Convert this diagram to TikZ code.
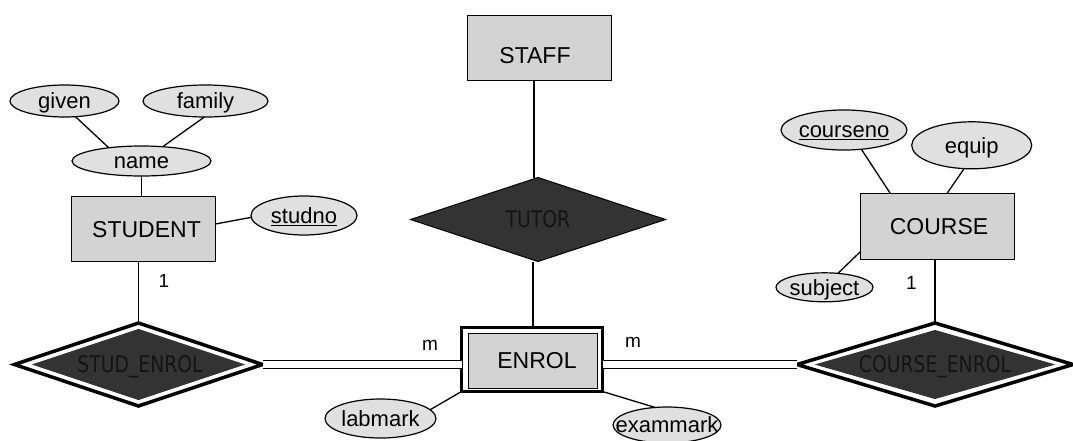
\documentclass[tikz,border=0pt]{standalone}
\usepackage{fontspec}
\setmainfont{Liberation Sans}
\newfontfamily\relfont[FakeStretch=0.82]{DejaVu Sans}
\usetikzlibrary{shapes.geometric}
\definecolor{entfill}{HTML}{D3D3D3}
\definecolor{attfill}{HTML}{E0E0E0}
\definecolor{relfill}{HTML}{333333}
\definecolor{reltext}{HTML}{141414}
% text that takes no room, so the shape is set by its minimum size only
\newcommand\boxtext[3]{\raisebox{#2}[0pt][0pt]{\makebox[0pt]{\hspace*{#1}#3}}}
\newcommand\ctr[1]{\boxtext{0pt}{-0.36em}{#1}}
\begin{document}
\begin{tikzpicture}[x=1pt,y=-1pt,
  entity/.style={rectangle, draw, fill=entfill, line width=1.3pt, inner sep=0pt, outer sep=0pt,
    font=\fontsize{23}{27}\selectfont},
  attr/.style={ellipse, draw, fill=attfill, line width=1.2pt, inner sep=0pt, outer sep=0pt,
    font=\fontsize{22}{26}\selectfont},
  rel/.style={diamond, draw, fill=relfill, line width=1pt, inner sep=0pt, outer sep=0pt,
    text=reltext, font=\relfont\fontsize{22.9}{27}\selectfont},
  wrel/.style={diamond, draw, fill=white, line width=3.5pt, inner sep=0pt, outer sep=0pt},
  link/.style={line width=1.3pt},
  dlink/.style={double, double distance=7pt, line width=1.4pt},
  card/.style={inner sep=0pt, font=\fontsize{19}{21}\selectfont}]
\useasboundingbox (0,0) rectangle (1073,440);

% entities
\node[entity, minimum width=144pt, minimum height=65pt] (STAFF) at (539.5,48)
  {\boxtext{-9pt}{-15pt}{STAFF}};
\node[entity, minimum width=144pt, minimum height=65pt] (STUDENT) at (143.5,229)
  {\boxtext{6pt}{-0.36em}{STUDENT}};
\node[entity, minimum width=154pt, minimum height=66pt] (COURSE) at (937.5,226.5)
  {\boxtext{3pt}{-0.36em}{COURSE}};

% weak entity ENROL
\node[rectangle, draw, fill=white, line width=3pt, inner sep=0pt, outer sep=0pt,
  minimum width=141pt, minimum height=64pt] (ENROL) at (532,359.5) {};
\node[entity, line width=1pt, minimum width=129pt, minimum height=55pt] (ENRi) at (532.5,360.5)
  {\boxtext{9pt}{-0.36em}{ENROL}};

% relationships
\node[rel, minimum width=255pt, minimum height=84pt] (TUTOR) at (538,219.5) {\ctr{TUTOR}};
\node[wrel, minimum width=248pt, minimum height=83pt] (STUD_ENROL) at (138.5,364.5) {};
\node[rel, draw=relfill, minimum width=210pt, minimum height=70pt] (SEin) at (138.5,364.5)
  {\boxtext{3pt}{-0.365em}{STUD\_ENROL}};
\node[wrel, minimum width=276pt, minimum height=83pt] (COURSE_ENROL) at (935,364.5) {};
\node[rel, draw=relfill, minimum width=237pt, minimum height=68pt] (CEin) at (935,364.5)
  {\ctr{COURSE\_ENROL}};

% attributes
\node[attr, minimum width=109pt, minimum height=32pt] (given) at (64.5,101) {\ctr{given}};
\node[attr, minimum width=125pt, minimum height=32pt] (family) at (205.5,101) {\ctr{family}};
\node[attr, minimum width=139pt, minimum height=30pt] (name) at (141.5,161) {\ctr{name}};
\node[attr, minimum width=106pt, minimum height=39pt] (studno) at (304,215.5) {\ctr{\underline{studno}}};
\node[attr, minimum width=126pt, minimum height=40pt] (courseno) at (844,130) {\ctr{\underline{courseno}}};
\node[attr, minimum width=120pt, minimum height=47pt] (equip) at (971.7,145.3) {\ctr{equip}};
\node[attr, minimum width=97pt, minimum height=29pt] (subject) at (824.5,287.3) {\ctr{subject}};
\node[attr, minimum width=111pt, minimum height=39pt] (labmark) at (380.5,418.5) {\ctr{labmark}};
\node[attr, minimum width=108pt, minimum height=36pt] (exammark) at (667,425) {\ctr{exammark}};

% cardinalities
\node[card] (c1) at (164,281) {1};
\node[card] (c2) at (911.5,283) {1};
\node[card] (c3) at (430,345) {m};
\node[card] (c4) at (633,342) {m};

% attribute links
\draw[link] (given.-55) -- (name.158);
\draw[link] (family.-94) -- (name.34);
\draw[link] (name.south) -- (name.south |- STUDENT.north);
\draw[link] (STUDENT.4) -- (studno.182);
\draw[link] (courseno.-48) -- (COURSE.145);
\draw[link] (equip.-108) -- (COURSE.74);
\draw[link] (subject.46) -- (COURSE.198);
\draw[link] (ENROL.south west) -- (labmark.10);
\draw[link] (ENROL.south east) -- (exammark.124);

% relationship links
\draw[link] (STAFF.south -| 534,0) -- (TUTOR.north -| 534,0);
\draw[link] (TUTOR.south -| 533,0) -- (ENROL.north -| 533,0);
\draw[link] (STUD_ENROL.north |- STUDENT.south) -- (STUD_ENROL.north);
\draw[link] (COURSE_ENROL.north |- COURSE.south) -- (COURSE_ENROL.north);
\draw[dlink] (STUD_ENROL.east) -- (STUD_ENROL.east -| ENROL.west);
\draw[dlink] (ENROL.east |- COURSE_ENROL.west) -- (COURSE_ENROL.west);
\end{tikzpicture}
\end{document}
